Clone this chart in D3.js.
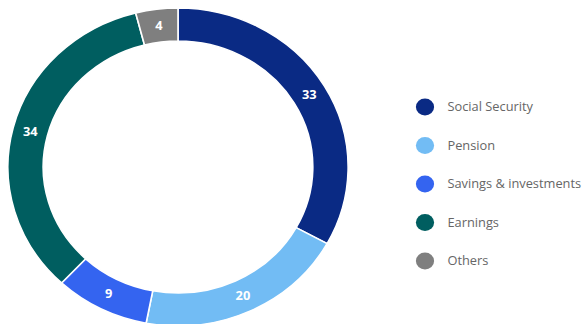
<!DOCTYPE html>
<html>
<head>
<meta charset="utf-8">
<script src="https://cdn.jsdelivr.net/npm/d3@7"></script>
<style>
  html, body { margin: 0; padding: 0; background: #fff; }
  #donut { width: 582px; height: 324px; }
  text { font-family: "Open Sans", "Noto Sans", sans-serif; }
</style>
</head>
<body>
<div id="donut"></div>
<script>
const categories = ['Social Security', 'Pension', 'Savings & investments', 'Earnings', 'Others'];
const values     = [33, 20, 9, 34, 4];
const colors     = ['#0a2a84', '#72bcf4', '#3464f0', '#005e60', '#7f7f7f'];

(function initDonut() {
  const width = 582, height = 324;
  const svg = d3.select('#donut')
    .append('svg')
    .attr('width', width)
    .attr('height', height)
    .attr('viewBox', `0 0 ${width} ${height}`);

  const data = categories.map((c, i) => ({ name: c, value: values[i] }));
  const color = d3.scaleOrdinal().domain(categories).range(colors);

  // the picture is a little stretched sideways
  const g = svg.append('g').attr('transform', 'translate(178,167) scale(1.07,1)');

  const outerR = 159;
  const innerR = 126;
  const arc = d3.arc().innerRadius(innerR).outerRadius(outerR);
  const midR = (innerR + outerR) / 2;
  const arcCenter = d3.arc().innerRadius(midR).outerRadius(midR);

  const pie = d3.pie().value(d => d.value).sort(null);
  const arcs = pie(data);

  g.append('g').selectAll('path')
    .data(arcs)
    .join('path')
    .attr('d', arc)
    .attr('fill', d => color(d.data.name))
    .attr('stroke', '#fff')
    .attr('stroke-width', 1.5);

  g.append('g').selectAll('text')
    .data(arcs)
    .join('text')
    .attr('transform', d => `translate(${arcCenter.centroid(d)})`)
    .attr('dy', '0.35em')
    .attr('text-anchor', 'middle')
    .attr('fill', '#fff')
    .attr('font-size', 12)
    .attr('font-weight', 700)
    .text(d => d.data.value);

  // legend
  const ly = d3.scalePoint().domain(categories).range([107, 261]);
  const leg = svg.append('g').selectAll('g')
    .data(categories)
    .join('g')
    .attr('transform', d => `translate(425,${ly(d)}) scale(1.07,1)`);

  leg.append('circle')
    .attr('r', 8.5)
    .attr('fill', d => color(d));

  leg.append('text')
    .attr('x', 21)
    .attr('dy', '0.35em')
    .attr('fill', '#666')
    .attr('font-size', 12)
    .text(d => d);
})();
</script>
</body>
</html>
